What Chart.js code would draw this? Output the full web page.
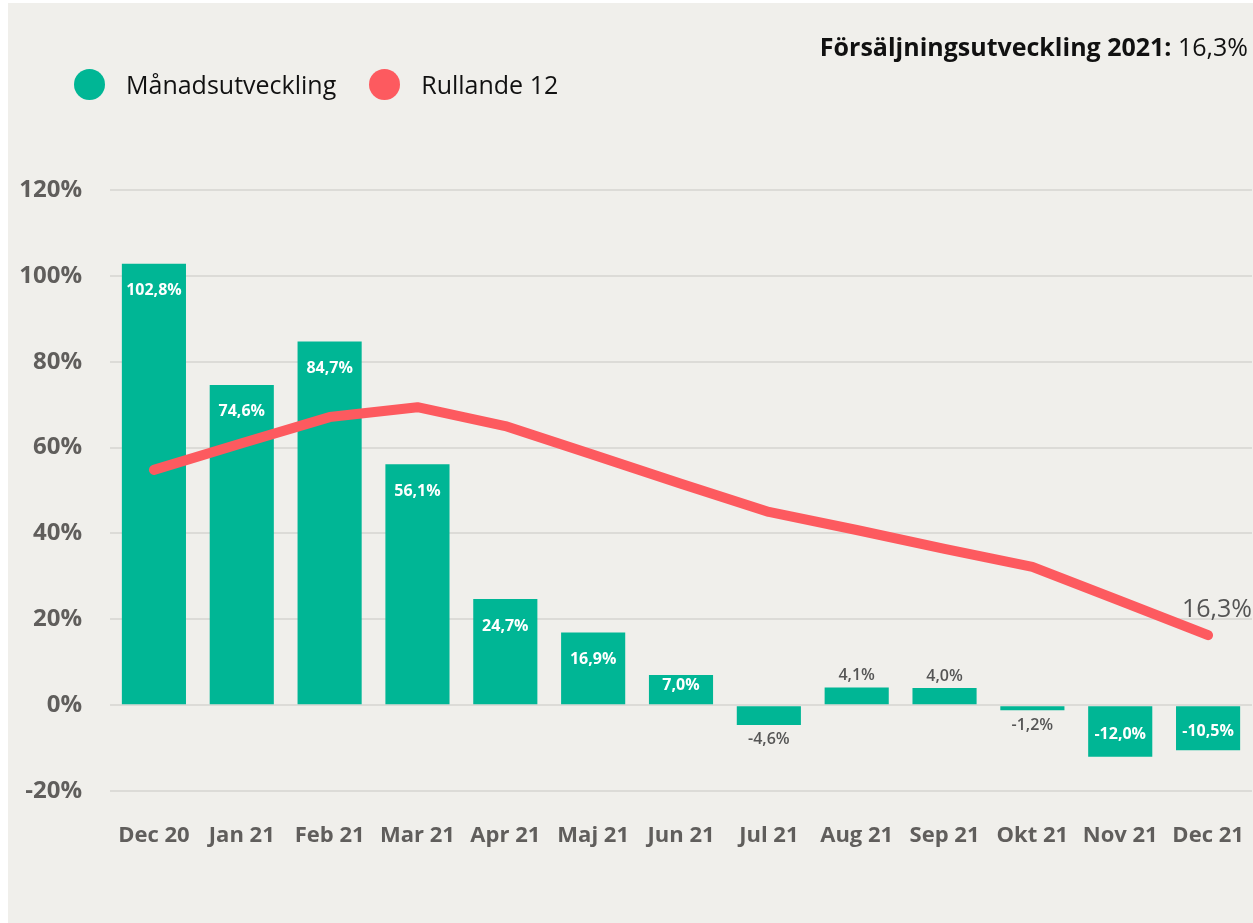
<!DOCTYPE html>
<html>
<head>
<meta charset="utf-8">
<script src="https://cdn.jsdelivr.net/npm/chart.js@4"></script>
<style>
  body { margin: 0; background: #ffffff; }
  #wrap {
    position: absolute; left: 8px; top: 3px; width: 1245px; height: 920px;
    background: #f0efeb; font-family: "Open Sans", "Noto Sans", sans-serif;
  }
  #chart { position: absolute; left: 0; top: 0; }
  .legend { position: absolute; top: 64px; left: 66px; display: flex; align-items: center; font-size: 25px; color: #111; }
  .legend span.dot { width: 31px; height: 31px; border-radius: 50%; display: inline-block; margin-right: 21px; }
  .legend .item { display: flex; align-items: center; margin-right: 33px; }
  .title { position: absolute; top: 26px; right: 5px; font-size: 25px; color: #111; }
  .title b { font-weight: 700; }
</style>
</head>
<body>
<div id="wrap">
  <canvas id="chart" width="1245" height="920"></canvas>
  <div class="legend">
    <div class="item"><span class="dot" style="background:#00b695"></span>Månadsutveckling</div>
    <div class="item"><span class="dot" style="background:#fd5a5f"></span>Rullande 12</div>
  </div>
  <div class="title"><b>Försäljningsutveckling 2021:</b> 16,3%</div>
</div>
<script>
const months = ['Dec 20', 'Jan 21', 'Feb 21', 'Mar 21', 'Apr 21', 'Maj 21', 'Jun 21',
  'Jul 21', 'Aug 21', 'Sep 21', 'Okt 21', 'Nov 21', 'Dec 21'];
const monthly = [102.8, 74.6, 84.7, 56.1, 24.7, 16.9, 7.0, -4.6, 4.1, 4.0, -1.2, -12.0, -10.5];
const rolling12 = [54.8, 61.0, 67.1, 69.4, 65.0, 58.3, 51.6, 45.0, 40.8, 36.4, 32.2, 24.3, 16.3];
const yTicks = [-20, 0, 20, 40, 60, 80, 100, 120];

const green = '#00b695';
const red = '#fd5a5f';
const gray = '#605e5c';

function fmt(v) {
  return v.toFixed(1).replace('.', ',') + '%';
}

// value labels on bars and the last line point
const labelPlugin = {
  id: 'valueLabels',
  afterDatasetsDraw(chart) {
    const ctx = chart.ctx;
    ctx.save();
    ctx.textAlign = 'center';
    ctx.textBaseline = 'middle';
    const bars = chart.getDatasetMeta(1).data;
    bars.forEach((bar, i) => {
      const v = monthly[i];
      const top = Math.min(bar.y, bar.base);
      const bottom = Math.max(bar.y, bar.base);
      const mid = (top + bottom) / 2;
      let y;
      if (Math.abs(v) >= 7) {
        ctx.fillStyle = '#ffffff';
        ctx.font = 'bold 16px "Open Sans"';
        y = v > 0 ? Math.min(top + 27, mid - 4) : Math.max(bottom - 22, mid + 3);
      } else {
        ctx.fillStyle = '#555555';
        ctx.font = '600 16px "Open Sans"';
        y = v > 0 ? top - 12 : bottom + 15;
      }
      ctx.fillText(fmt(v), bar.x, y);
    });
    const pts = chart.getDatasetMeta(0).data;
    const last = pts[pts.length - 1];
    ctx.fillStyle = '#555555';
    ctx.font = '25px "Open Sans"';
    ctx.textAlign = 'right';
    ctx.fillText(fmt(rolling12[rolling12.length - 1]), chart.width - 1, last.y - 25);
    ctx.restore();
  }
};

new Chart(document.getElementById('chart'), {
  data: {
    labels: months,
    datasets: [
      {
        type: 'line',
        label: 'Rullande 12',
        data: rolling12,
        borderColor: red,
        borderWidth: 10,
        borderCapStyle: 'round',
        borderJoinStyle: 'round',
        pointRadius: 0,
        tension: 0,
        order: 0
      },
      {
        type: 'bar',
        label: 'Månadsutveckling',
        data: monthly,
        backgroundColor: green,
        barPercentage: 0.73,
        categoryPercentage: 1,
        order: 1
      }
    ]
  },
  options: {
    responsive: false,
    animation: false,
    layout: { padding: { top: 187, right: 1, bottom: 62, left: 0 } },
    plugins: {
      legend: { display: false },
      tooltip: { enabled: false }
    },
    scales: {
      x: {
        offset: true,
        clip: false,
        grid: { display: false },
        border: { display: false },
        ticks: {
          color: gray,
          font: { family: 'Open Sans', size: 22, weight: 'bold' },
          padding: 24,
          maxRotation: 0,
          autoSkip: false
        },
        afterFit(scale) {
          scale.height = 70;
          scale.paddingLeft = 0;
          scale.paddingRight = 0;
        }
      },
      y: {
        min: -20,
        max: 120,
        afterBuildTicks(scale) { scale.ticks = yTicks.map(v => ({ value: v })); },
        grid: { color: '#dcdbd7', lineWidth: 2, drawTicks: false },
        border: { display: false },
        ticks: {
          color: gray,
          font: { family: 'Open Sans', size: 24, weight: 'bold' },
          padding: 28,
          callback: v => v + '%'
        },
        afterFit(scale) { scale.width = 102; }
      }
    }
  },
  plugins: [labelPlugin]
});
</script>
</body>
</html>
